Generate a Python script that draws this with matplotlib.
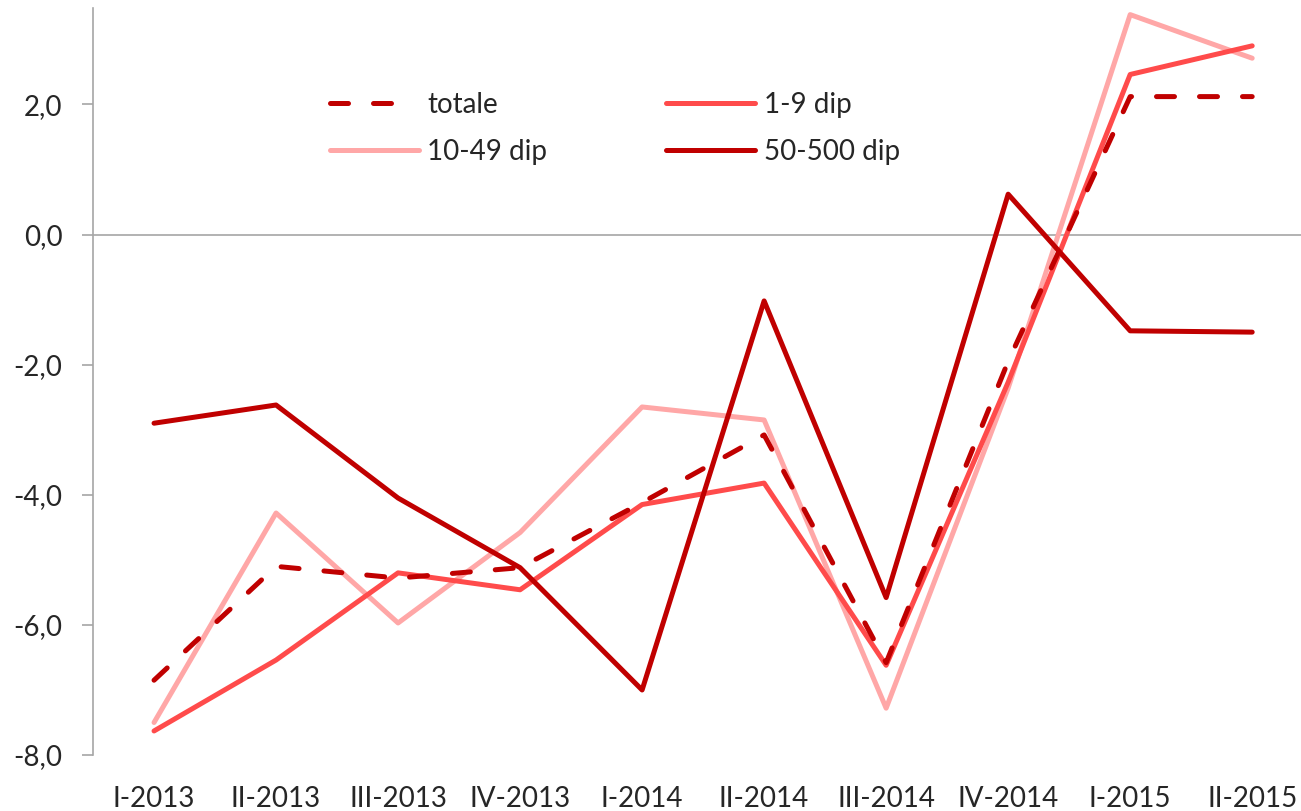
import matplotlib
matplotlib.use("Agg")
import matplotlib.pyplot as plt
from matplotlib.lines import Line2D
from matplotlib.ticker import FuncFormatter

plt.rcParams['font.family'] = ['Lato', 'DejaVu Sans']

periods = ["I-2013", "II-2013", "III-2013", "IV-2013", "I-2014",
           "II-2014", "III-2014", "IV-2014", "I-2015", "II-2015"]

totale = [-6.85, -5.10, -5.28, -5.12, -4.12, -3.08, -6.58, -1.95, 2.12, 2.12]
dip_1_9 = [-7.63, -6.54, -5.20, -5.46, -4.15, -3.82, -6.62, -2.27, 2.46, 2.90]
dip_10_49 = [-7.50, -4.28, -5.97, -4.58, -2.65, -2.85, -7.28, -2.36, 3.38, 2.71]
dip_50_500 = [-2.90, -2.62, -4.05, -5.12, -7.00, -1.02, -5.58, 0.62, -1.48, -1.50]

dark = "#C00000"
mid = "#FF4B4B"
light = "#FFA7A7"

fig = plt.figure(figsize=(13.01, 8.11), dpi=100)
ax = fig.add_axes([0.0715, 0.069, 0.9285, 0.921])

x = range(len(periods))
lw = 3.6
ax.plot(x, totale, color=dark, lw=lw, ls=(0, (3.6, 5.0)),
        dash_capstyle="round", zorder=5)
l_19, = ax.plot(x, dip_1_9, color=mid, lw=lw, solid_capstyle="round", zorder=3)
l_1049, = ax.plot(x, dip_10_49, color=light, lw=lw, solid_capstyle="round", zorder=2)
l_50, = ax.plot(x, dip_50_500, color=dark, lw=lw, solid_capstyle="round", zorder=4)

# legend proxy for the dashed line: two dashes, then blank before the text
l_tot = Line2D([], [], color=dark, lw=lw, ls=(0, (3.6, 5.0, 3.6, 12)),
               dash_capstyle="round")

ax.axhline(0, color="#A6A6A6", lw=1.2, zorder=1)

ax.set_xlim(-0.5, 9.4)
ax.set_ylim(-8, 3.48)
ax.set_yticks([-8, -6, -4, -2, 0, 2])
ax.yaxis.set_major_formatter(FuncFormatter(lambda v, p: f"{v:.1f}".replace(".", ",")))
ax.set_xticks(list(x))
ax.set_xticklabels(periods)

for s in ["top", "right", "bottom"]:
    ax.spines[s].set_visible(False)
ax.spines["left"].set_color("#A6A6A6")
ax.spines["left"].set_linewidth(1.2)

ax.tick_params(axis="y", length=8, width=1.2, color="#A6A6A6", pad=14,
               labelsize=20, labelcolor="#262626")
ax.tick_params(axis="x", length=0, pad=22, labelsize=20, labelcolor="#262626")

leg = ax.legend([l_tot, l_1049, l_19, l_50],
                ["totale", "10-49 dip", "1-9 dip", "50-500 dip"],
                ncol=2, loc="upper left", bbox_to_anchor=(0.196, 0.8875),
                frameon=False, fontsize=20, handlelength=3.2, handletextpad=0.3,
                columnspacing=4.3, labelspacing=0.75, borderpad=0, borderaxespad=0)
for t in leg.get_texts():
    t.set_color("#262626")

fig.savefig("out.png", dpi=100)
